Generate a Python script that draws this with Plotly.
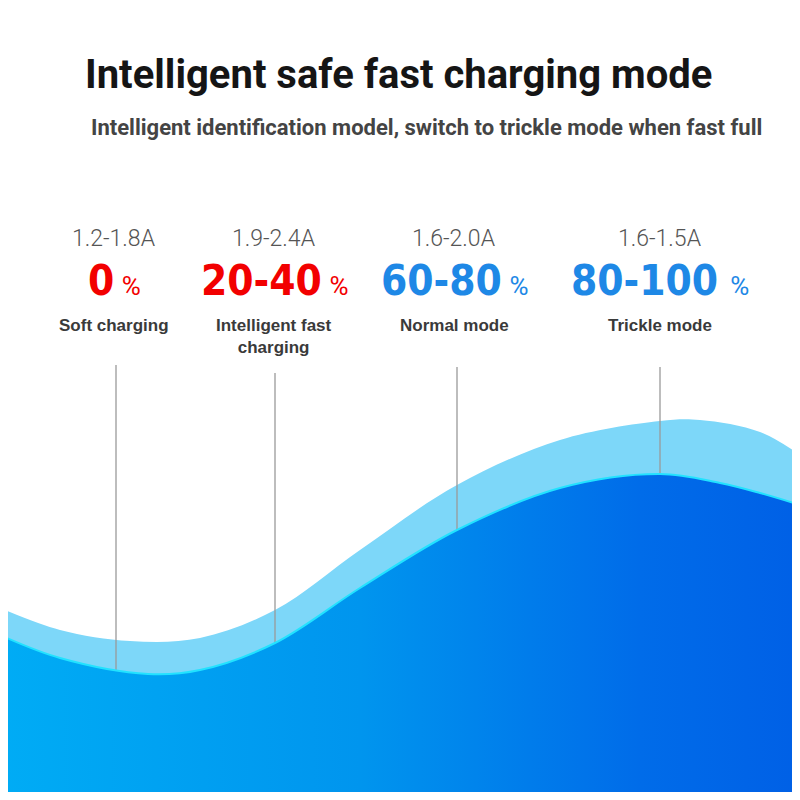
import plotly.graph_objects as go

# wave outlines (height above the bottom edge, px)
light_x = [0, 60, 130, 200, 275, 360, 457, 560, 660, 700, 760, 800]
light_h = [192, 170, 159, 162, 190, 250, 315, 360, 379, 380, 368, 345]
dark_x = [0, 60, 148, 200, 275, 360, 457, 560, 660, 720, 760, 800]
dark_h = [165, 142, 126, 130, 157, 212, 270, 312, 326, 317, 307, 295]

# the four stages
line_x = [116, 275, 457, 660]
line_top = [435, 427, 433, 433]
label_x = [114, 274, 454, 660]
amps = ["1.2-1.8A", "1.9-2.4A", "1.6-2.0A", "1.6-1.5A"]
percents = ["0", "20-40", "60-80", "80-100"]
pct_gap = ["\u2009", "\u2009", "\u2009", " "]
pct_colors = ["#F20000", "#F20000", "#1E88E6", "#1E88E6"]
modes = ["Soft charging", "Intelligent fast<br>charging", "Normal mode", "Trickle mode"]

title = "Intelligent safe fast charging mode"
subtitle = "Intelligent identification model, switch to trickle mode when fast full"

fig = go.Figure()

# light band
fig.add_trace(go.Scatter(x=light_x, y=light_h, mode="lines", line=dict(shape="spline", smoothing=1, color="#7DD7F9", width=0),
                         fill="tozeroy", fillcolor="#7DD7F9", hoverinfo="skip"))

# grey pointer lines (the main wave covers their lower part)
for lx, lt in zip(line_x, line_top):
    fig.add_trace(go.Scatter(x=[lx, lx], y=[lt, 0], mode="lines", line=dict(color="#9A9A9A", width=1.3), hoverinfo="skip"))

# main wave with gradient
fig.add_trace(go.Scatter(x=dark_x, y=dark_h, mode="lines", line=dict(shape="spline", smoothing=1, color="#22E2FF", width=2),
                         fill="tozeroy",
                         fillgradient=dict(type="horizontal",
                                           colorscale=[[0, "#00ACF5"], [0.45, "#0095EE"], [0.8, "#006CE9"], [1, "#0060E6"]]),
                         hoverinfo="skip"))

ann = []
ann.append(dict(x=398, y=726, text="<b>" + title + "</b>", showarrow=False,
                font=dict(family="Roboto", size=40, color="#151515")))
ann.append(dict(x=426, y=673, text="<b>" + subtitle + "</b>", showarrow=False,
                font=dict(family="Roboto", size=22, color="#444444")))

for i in range(4):
    ann.append(dict(x=label_x[i], y=562, text=amps[i], showarrow=False,
                    font=dict(family="Roboto", size=23, color="#555555", weight=300)))
    ann.append(dict(x=label_x[i], y=520,
                    text="<b>" + percents[i] + "</b>" + pct_gap[i] + "<span style='font-size:26px;font-weight:normal;font-family:Roboto'>%</span>",
                    showarrow=False, font=dict(family="DejaVu Sans Condensed", size=42, color=pct_colors[i])))
    ann.append(dict(x=label_x[i], y=486, text="<b>" + modes[i] + "</b>", showarrow=False, yanchor="top",
                    font=dict(family="Liberation Sans", size=17, color="#3A3A3A")))

# the page keeps an 8px white border round the figure, so the axes start 8px in
fig.update_layout(width=784, height=784, margin=dict(l=0, r=0, t=0, b=0),
                  paper_bgcolor="white", plot_bgcolor="white", showlegend=False,
                  xaxis=dict(range=[8, 792], visible=False, fixedrange=True),
                  yaxis=dict(range=[8, 792], visible=False, fixedrange=True),
                  annotations=ann)

fig.write_html("out.html")
